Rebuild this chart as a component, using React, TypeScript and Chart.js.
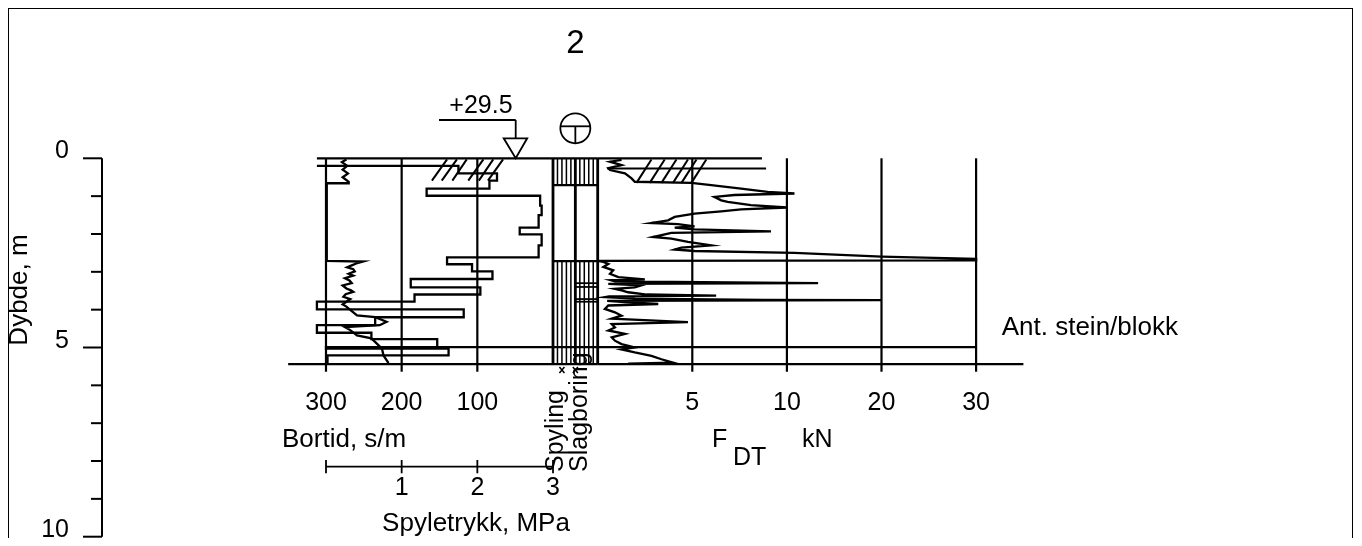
import React, { useEffect, useRef } from "react";
import { Chart, registerables } from "chart.js";

Chart.register(...registerables);

const FONT = '"Liberation Sans", Arial, Helvetica, sans-serif';
const W = 1346;
const H = 530;

// ---------- axes / ticks ----------
const depthTicks = [0, 1, 2, 3, 4, 5, 6, 7, 8, 9, 10];
const depthLabelTicks = [0, 5, 10];
const bortidTicks = [300, 200, 100];
const pressureTicks = [0, 1, 2, 3];
const pressureLabelTicks = [1, 2, 3];
const fdtTicks = [5, 10, 20, 30];
const gridBottom = 5.64;
const soundingEnd = 5.44;

// ---------- Bortid (s/m), stepped, value starts at given depth ----------
const bortidDepth = [0.2, 0.2, 0.4, 0.59, 0.8, 0.99, 1.25, 1.5, 1.83, 2.01, 2.3, 2.62, 2.8, 2.99, 3.19, 3.41, 3.6, 3.79, 3.99, 4.2, 4.41, 4.61, 4.78, 4.99, 5.03, 5.21, 5.44];
const bortidValue = [312, 125, 74, 84, 167, 17, 15, 19, 44, 15, 19, 140, 107, 80, 188, 96, 183, 312, 118, 235, 312, 240, 153, 300, 138, 298, 298];

// ---------- Spyletrykk (MPa) ----------
const pressureDepth = [0.03, 0.1, 0.2, 0.3, 0.4, 0.5, 0.62, 0.66, 0.66, 2.71, 2.73, 2.78, 2.83, 2.88, 2.93, 2.99, 3.05, 3.1, 3.17, 3.23, 3.3, 3.36, 3.44, 3.49, 3.53, 3.59, 3.66, 3.72, 3.79, 3.86, 3.92, 3.97, 4.15, 4.2, 4.32, 4.41, 4.46, 4.54, 4.68, 4.76, 5.03, 5.21, 5.39, 5.43];
const pressureValue = [0.27, 0.21, 0.28, 0.22, 0.29, 0.22, 0.3, 0.3, 0.01, 0.01, 0.49, 0.4, 0.34, 0.28, 0.36, 0.38, 0.3, 0.36, 0.25, 0.31, 0.34, 0.22, 0.27, 0.33, 0.36, 0.26, 0.23, 0.32, 0.27, 0.22, 0.27, 0.3, 0.41, 0.65, 0.8, 0.71, 0.25, 0.32, 0.41, 0.6, 0.74, 0.76, 0.82, 0.82];

// ---------- F_DT (kN) ----------
const fdtDepth = [0.04, 0.09, 0.18, 0.26, 0.31, 0.4, 0.53, 0.62, 0.65, 0.71, 0.8, 0.89, 0.93, 0.97, 1.02, 1.11, 1.15, 1.24, 1.3, 1.35, 1.4, 1.46, 1.55, 1.64, 1.71, 1.74, 1.8, 1.83, 1.88, 1.93, 1.97, 2.08, 2.12, 2.21, 2.3, 2.36, 2.41, 2.45, 2.5, 2.6, 2.66, 2.7, 2.71, 2.74, 2.79, 2.87, 2.96, 3.05, 3.14, 3.2, 3.22, 3.25, 3.3, 3.32, 3.36, 3.41, 3.45, 3.49, 3.54, 3.6, 3.63, 3.65, 3.67, 3.71, 3.74, 3.75, 3.77, 3.8, 3.85, 3.89, 3.98, 4.07, 4.16, 4.24, 4.33, 4.38, 4.47, 4.55, 4.64, 4.73, 4.82, 4.91, 5.0, 5.05, 5.13, 5.22, 5.31, 5.4, 5.43];
const fdtValue = [1.26, 0.65, 1.26, 0.56, 0.65, 1.44, 1.79, 1.96, 4.95, 6.0, 7.58, 8.98, 10.8, 7.23, 6.17, 6.53, 6.87, 8.1, 10.0, 7.58, 6.53, 5.12, 4.07, 3.72, 2.84, 4.24, 5.12, 4.07, 5.12, 9.16, 3.89, 2.93, 3.89, 4.77, 6.0, 4.42, 4.07, 5.12, 10.8, 20, 30, 30, 0, 0.3, 0.56, 0.3, 0.82, 0.65, 1.09, 2.49, 0.7, 0.91, 13.3, 0.56, 2.3, 1.96, 0.9, 1.26, 1.61, 2.6, 6.26, 0.6, 0.38, 1.96, 8.8, 20, 0.5, 1.44, 3.2, 0.56, 0.38, 0.91, 1.26, 0.74, 4.77, 0.74, 0.91, 0.56, 1.44, 0.74, 0.91, 1.26, 1.96, 1.26, 1.96, 2.84, 3.37, 3.98, 1.61];
const fdtLineDepth = [0.27];
const fdtLineFrom = [0.5];
const fdtLineTo = [8.9];

// ---------- lines across the whole profile ----------
const crossLineDepth = [0, 4.99, 5.44];
const crossLineBortidFrom = [312, 300, 350];
const crossLineFdtTo = [8.68, 30, 35];

// ---------- hatching ----------
const bortidHatchBottom = [160, 147, 133, 112, 98, 86];
const bortidHatchTop = [140, 127, 114, 92, 79, 66];
const bortidHatchDepth = [0.03, 0.59];
const fdtHatchBottom = [2.05, 2.75, 3.37, 3.98, 4.43, 4.95];
const fdtHatchTop = [2.84, 3.54, 4.16, 4.77, 5.22, 5.74];
const fdtHatchDepth = [0.03, 0.65];

// ---------- Spyling / Slagboring column ----------
const columnIntervalFrom = [0, 2.72];
const columnIntervalTo = [0.71, 5.44];
const columnBoundaryDepth = [0.71, 2.72];
const slagMarkDepth = [3.3, 3.4, 3.72, 3.79];

// F_DT axis is linear 0-10 and then 10-30 on a compressed part
const fdtUnit = (f: number) => (f <= 10 ? f / 5 : 2 + (f - 10) / 10);

function lin(px0: number, k: number) {
  if (k > 0) return { type: "linear", display: false, min: -px0 / k, max: (W - px0) / k };
  const a = -k;
  return { type: "linear", display: false, reverse: true, min: (px0 - W) / a, max: px0 / a };
}

const lineStyle = {
  showLine: true,
  borderColor: "#000",
  backgroundColor: "#000",
  pointRadius: 0,
  pointHoverRadius: 0,
  clip: false,
  fill: false,
  yAxisID: "y",
};

function seg(axis: string, x1: number, y1: number, x2: number, y2: number, w = 2.2) {
  return { ...lineStyle, xAxisID: axis, borderWidth: w, data: [{ x: x1, y: y1 }, { x: x2, y: y2 }] };
}

function buildDatasets() {
  const ds: any[] = [];
  ds.push({
    ...lineStyle,
    xAxisID: "xb",
    borderWidth: 2.3,
    stepped: "after",
    data: bortidDepth.map((d, i) => ({ x: bortidValue[i], y: d })),
  });
  ds.push({
    ...lineStyle,
    xAxisID: "xp",
    borderWidth: 2.3,
    data: pressureDepth.map((d, i) => ({ x: pressureValue[i], y: d })),
  });
  ds.push({
    ...lineStyle,
    xAxisID: "xf",
    borderWidth: 2.3,
    data: fdtDepth.map((d, i) => ({ x: fdtUnit(fdtValue[i]), y: d })),
  });
  fdtLineDepth.forEach((d, i) => ds.push(seg("xf", fdtUnit(fdtLineFrom[i]), d, fdtUnit(fdtLineTo[i]), d)));
  crossLineDepth.forEach((d, i) => {
    ds.push(seg("xb", crossLineBortidFrom[i], d, 0, d));
    ds.push(seg("xc", 0, d, 2, d));
    ds.push(seg("xf", 0, d, fdtUnit(crossLineFdtTo[i]), d));
  });
  bortidHatchBottom.forEach((b, i) =>
    ds.push(seg("xb", b, bortidHatchDepth[1], bortidHatchTop[i], bortidHatchDepth[0], 2))
  );
  fdtHatchBottom.forEach((f, i) =>
    ds.push(seg("xf", fdtUnit(f), fdtHatchDepth[1], fdtUnit(fdtHatchTop[i]), fdtHatchDepth[0], 2))
  );
  // column
  [0, 1, 2].forEach((u) => ds.push(seg("xc", u, 0, u, soundingEnd, 2.8)));
  columnBoundaryDepth.forEach((d) => ds.push(seg("xc", 0, d, 2, d, 2.2)));
  columnIntervalFrom.forEach((from, i) => {
    const to = columnIntervalTo[i];
    for (let c = 0; c < 2; c++) {
      for (let k = 1; k <= 4; k++) ds.push(seg("xc", c + k / 5, from, c + k / 5, to, 1.5));
    }
  });
  slagMarkDepth.forEach((d) => ds.push(seg("xc", 1, d, 2, d, 1.8)));
  return ds;
}

function stroke(ctx: CanvasRenderingContext2D, x1: number, y1: number, x2: number, y2: number, w = 2) {
  ctx.lineWidth = w;
  ctx.beginPath();
  ctx.moveTo(x1, y1);
  ctx.lineTo(x2, y2);
  ctx.stroke();
}

function text(ctx: CanvasRenderingContext2D, s: string, x: number, y: number, align: CanvasTextAlign = "center", size = 25) {
  ctx.font = `${size}px ${FONT}`;
  ctx.textAlign = align;
  ctx.textBaseline = "alphabetic";
  ctx.fillText(s, x, y);
}

const profilePlugin = {
  id: "profile",
  beforeDatasetsDraw(chart: any) {
    const ctx: CanvasRenderingContext2D = chart.ctx;
    const { y, xb, xf } = chart.scales;
    const top = y.getPixelForValue(0);
    const bot = y.getPixelForValue(gridBottom);
    ctx.save();
    ctx.strokeStyle = "#000";
    for (const v of bortidTicks) {
      const x = xb.getPixelForValue(v);
      stroke(ctx, x, top, x, bot, 2.2);
    }
    for (const v of fdtTicks) {
      const x = xf.getPixelForValue(fdtUnit(v));
      stroke(ctx, x, top, x, bot, 2.2);
    }
    ctx.restore();
  },
  afterDatasetsDraw(chart: any) {
    const ctx: CanvasRenderingContext2D = chart.ctx;
    const { y, xb, xp, xc, xf } = chart.scales;
    ctx.save();
    ctx.strokeStyle = "#000";
    ctx.fillStyle = "#000";

    // frame
    ctx.lineWidth = 1;
    ctx.strokeRect(0.5, 0.5, 1344, H + 40);

    // depth axis
    const axisX = 94;
    stroke(ctx, axisX, y.getPixelForValue(0), axisX, y.getPixelForValue(10), 2);
    for (const d of depthTicks) {
      const yy = y.getPixelForValue(d);
      const major = depthLabelTicks.includes(d);
      stroke(ctx, axisX - (major ? 19 : 11), yy, axisX, yy, 2);
    }
    for (const d of depthLabelTicks) text(ctx, String(d), 61, y.getPixelForValue(d), "right");
    ctx.save();
    ctx.translate(19, 282);
    ctx.rotate(-Math.PI / 2);
    text(ctx, "Dybde, m", 0, 0, "center", 26);
    ctx.restore();

    // bottom scale labels
    for (const v of bortidTicks) text(ctx, String(v), xb.getPixelForValue(v), 402);
    for (const v of fdtTicks) text(ctx, String(v), xf.getPixelForValue(fdtUnit(v)), 402);
    text(ctx, "Bortid, s/m", 274, 439, "left", 26);

    // Spyletrykk axis
    const ya = 458.7;
    stroke(ctx, xp.getPixelForValue(0), ya, xp.getPixelForValue(3), ya, 1.8);
    for (const v of pressureTicks) {
      const x = xp.getPixelForValue(v);
      stroke(ctx, x, 452, x, 465.3, 1.8);
    }
    for (const v of pressureLabelTicks) text(ctx, String(v), xp.getPixelForValue(v), 487);
    text(ctx, "Spyletrykk, MPa", 468, 523, "center", 26);

    // F_DT label
    text(ctx, "F", 704, 439, "left");
    text(ctx, "DT", 725, 457, "left");
    text(ctx, "kN", 794, 439, "left");

    // column labels
    const cx0 = xc.getPixelForValue(0);
    ctx.save();
    ctx.translate(cx0 + 9.7, 464);
    ctx.rotate(-Math.PI / 2);
    text(ctx, "Spyling", 0, 0, "left");
    ctx.restore();
    ctx.save();
    ctx.translate(cx0 + 34, 464);
    ctx.rotate(-Math.PI / 2);
    text(ctx, "Slagboring", 0, 0, "left");
    ctx.restore();
    const ym = 362;
    for (const u of [0.4, 1.0]) {
      const x = xc.getPixelForValue(u);
      stroke(ctx, x - 2.5, ym - 3, x + 2.5, ym + 3, 1.5);
      stroke(ctx, x - 2.5, ym + 3, x + 2.5, ym - 3, 1.5);
    }

    text(ctx, "Ant. stein/blokk", 993.7, 327, "left", 26);

    // title
    text(ctx, "2", xc.getPixelForValue(1), 45, "center", 33);

    // terrain level marker
    text(ctx, "+29.5", 441.3, 105.3, "left");
    const tx = 507.7;
    stroke(ctx, 431, 112, tx, 112, 1.8);
    stroke(ctx, tx, 112, tx, 130.3, 1.8);
    ctx.beginPath();
    ctx.moveTo(tx - 12, 130.3);
    ctx.lineTo(tx + 11.5, 130.3);
    ctx.lineTo(tx, y.getPixelForValue(0));
    ctx.closePath();
    ctx.fillStyle = "#fff";
    ctx.fill();
    ctx.lineWidth = 1.8;
    ctx.stroke();
    ctx.fillStyle = "#000";

    // circle symbol
    const ccx = xc.getPixelForValue(1);
    const ccy = 120.3;
    const r = 15;
    ctx.lineWidth = 1.8;
    ctx.beginPath();
    ctx.arc(ccx, ccy, r, 0, Math.PI * 2);
    ctx.stroke();
    const barY = ccy - 2;
    const hw = Math.sqrt(r * r - 4);
    stroke(ctx, ccx - hw, barY, ccx + hw, barY, 1.8);
    stroke(ctx, ccx, barY, ccx, ccy + r, 1.8);

    ctx.restore();
  },
};

export default function App() {
  const ref = useRef<HTMLCanvasElement>(null);
  useEffect(() => {
    if (!ref.current) return;
    const chart = new Chart(ref.current, {
      type: "scatter",
      data: { datasets: buildDatasets() },
      options: {
        animation: false,
        responsive: false,
        events: [],
        layout: { padding: { top: 150.3, bottom: 1.3, left: 0, right: 0 } },
        plugins: { legend: { display: false }, tooltip: { enabled: false } },
        elements: { point: { radius: 0 }, line: { tension: 0 } },
        scales: {
          y: { type: "linear", display: false, reverse: true, min: 0, max: 10 },
          xb: lin(545, -0.7567),
          xp: lin(318, 75.67),
          xc: lin(545, 22.35),
          xf: lin(589.7, 94.6),
        },
      } as any,
      plugins: [profilePlugin],
    } as any);
    return () => chart.destroy();
  }, []);
  return (
    <div style={{ width: W, height: H }}>
      <canvas ref={ref} width={W} height={H} style={{ display: "block", width: W, height: H }} />
    </div>
  );
}
